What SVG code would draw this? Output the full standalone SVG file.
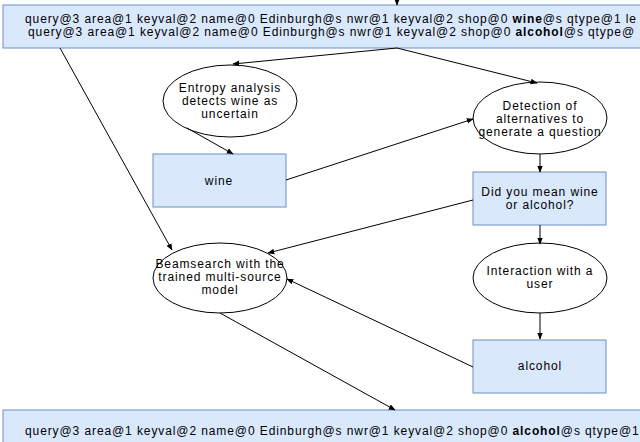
<svg xmlns="http://www.w3.org/2000/svg" width="640" height="442" viewBox="0 0 640 442">
<style>
.b{fill:#dae8fc;stroke:#6c8ebf;stroke-width:1}
.e{fill:#fff;stroke:#000;stroke-width:1}
text{font-family:"Liberation Sans",Arial,sans-serif;font-size:12px;letter-spacing:0.9px;fill:#000}
.c text{text-anchor:middle}
.l{stroke:#000;stroke-width:1;fill:none;marker-end:url(#a)}
</style>
<defs><marker id="a" viewBox="0 0 10 10" refX="9" refY="5" markerWidth="7" markerHeight="7" orient="auto"><path d="M0,1 L10,5 L0,9 z" fill="#000"/></marker></defs>
<rect width="640" height="442" fill="#fff"/>
<g id="top"><rect class="b" x="3" y="5" width="660" height="43"/>
<text x="25" y="23">query@3 area@1 keyval@2 name@0 Edinburgh@s nwr@1 keyval@2 shop@0 <tspan font-weight="bold">wine</tspan>@s qtype@1 le</text>
<text x="28" y="36">query@3 area@1 keyval@2 name@0 Edinburgh@s nwr@1 keyval@2 shop@0 <tspan font-weight="bold">alcohol</tspan>@s qtype@</text></g>
<g class="c">
<g id="entropy"><ellipse class="e" cx="230" cy="101" rx="67" ry="36"/><text x="230" y="92">Entropy analysis</text><text x="230" y="105">detects wine as</text><text x="230" y="118">uncertain</text></g>
<g id="detect"><ellipse class="e" cx="540" cy="118" rx="67" ry="36"/><text x="540" y="110">Detection of</text><text x="540" y="123">alternatives to</text><text x="540" y="136">generate a question</text></g>
<g id="wine"><rect class="b" x="153" y="154" width="133" height="53"/><text x="219" y="185">wine</text></g>
<g id="did"><rect class="b" x="473" y="172" width="133" height="53"/><text x="540" y="196">Did you mean wine</text><text x="540" y="209">or alcohol?</text></g>
<g id="inter"><ellipse class="e" cx="540" cy="278" rx="67" ry="35"/><text x="540" y="275">Interaction with a</text><text x="540" y="288">user</text></g>
<g id="beam"><ellipse class="e" cx="220" cy="278" rx="67" ry="35"/><text x="220" y="268">Beamsearch with the</text><text x="220" y="281">trained multi-source</text><text x="220" y="294">model</text></g>
<g id="alcohol"><rect class="b" x="473" y="340" width="133" height="53"/><text x="540" y="370">alcohol</text></g>
</g>
<g id="bottom"><rect class="b" x="3" y="410" width="660" height="40"/>
<text x="25" y="435">query@3 area@1 keyval@2 name@0 Edinburgh@s nwr@1 keyval@2 shop@0 <tspan font-weight="bold">alcohol</tspan>@s qtype@1</text></g>
<g id="connectors">
<path class="l" d="M397,0 L397,5"/>
<path class="l" d="M397,48 L233,64"/>
<path class="l" d="M397,48 L537,83"/>
<path class="l" d="M187,128 L233,154"/>
<path class="l" d="M286,180 L473,119"/>
<path class="l" d="M540,154 L540,172"/>
<path class="l" d="M540,225 L540,244"/>
<path class="l" d="M473,200 L268,253"/>
<path class="l" d="M60,48 L172,250"/>
<path class="l" d="M540,313 L540,339"/>
<path class="l" d="M473,367 L287,279"/>
<path class="l" d="M220,313 L395,410"/>
</g>
</svg>
